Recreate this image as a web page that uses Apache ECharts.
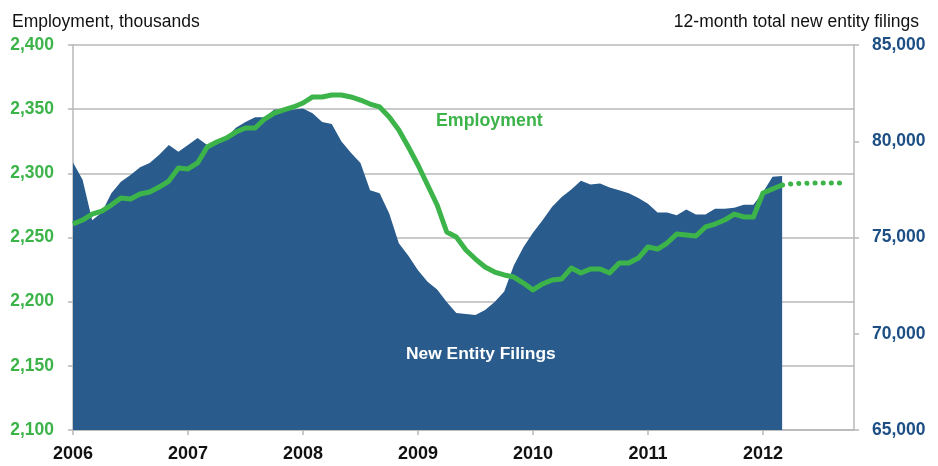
<!DOCTYPE html>
<html>
<head>
<meta charset="utf-8">
<script src="https://cdn.jsdelivr.net/npm/echarts@6/dist/echarts.min.js"></script>
<style>
  html, body { margin: 0; padding: 0; background: #fff; }
  #main { width: 938px; height: 466px; }
</style>
</head>
<body>
<div id="main"></div>
<script>
// monthly, starting Jan 2006
var years = ['2006', '2007', '2008', '2009', '2010', '2011', '2012']
var filings = [
  78900, 78000, 75900, 76300, 77300, 77900, 78250, 78650, 78870, 79300, 79800, 79450,
  79800, 80170, 79800, 80000, 80200, 80700, 81000, 81250, 81250, 81650, 81650, 81650,
  81700, 81450, 81000, 80900, 80000, 79400, 78870, 77450, 77300, 76250, 74700, 74050,
  73300, 72700, 72300, 71650, 71080, 71030, 70970, 71230, 71650, 72200, 73550, 74500,
  75250, 75900, 76600, 77100, 77500, 77950, 77750, 77800, 77600, 77450, 77300, 77050,
  76750, 76300, 76300, 76150, 76450, 76200, 76200, 76500, 76500, 76550, 76700, 76700,
  77350, 78150, 78200
]
var employment = [
  2260.5, 2263.6, 2268.3, 2270.6, 2275.3, 2280.8, 2280, 2283.9, 2285.5, 2289.3, 2294, 2304.2,
  2303.4, 2308.1, 2320.5, 2324.4, 2327.5, 2332.2, 2335.3, 2335.3, 2342.3, 2347, 2349.4, 2351.7,
  2354.8, 2359.5, 2359.5, 2361, 2361, 2359.5, 2357.1, 2354, 2351.7, 2343.9, 2333.8, 2320.5,
  2306.5, 2290.9, 2275.3, 2254.3, 2250.4, 2240.3, 2233.2, 2227, 2223.1, 2220.8, 2219.2, 2214.5,
  2209.1, 2213.8, 2216.9, 2217.7, 2226.2, 2222.3, 2225.5, 2225.5, 2222.3, 2230.1, 2230.1, 2234,
  2242.6, 2241, 2245.7, 2252.7, 2252, 2251.2, 2258.2, 2260.5, 2263.6, 2268.3, 2266, 2266,
  2284.7, 2287.8, 2290.9
]
// projection continues from the last actual month
var projection = [2290.9, 2291.8, 2292.2, 2292.4, 2292.4, 2292.4, 2292.4]

var GREEN = '#3cb44a'
var BLUE = '#295b8d'
var NAVY = '#1d4f85'
var GRID = '#b8b8b8'
var FONT = "'Liberation Sans', Arial, sans-serif"

function toPoints (arr, start) {
  return arr.map(function (v, i) { return [start + i, v] })
}
function comma (v) {
  return String(v).replace(/\B(?=(\d{3})+(?!\d))/g, ',')
}

var option = {
  backgroundColor: '#ffffff',
  animation: false,
  grid: { left: 73, right: 84, top: 45, bottom: 36 },
  xAxis: {
    type: 'value',
    min: 0,
    max: 81.5,
    interval: 12,
    axisLine: { show: true, lineStyle: { color: GRID, width: 1.5 } },
    axisTick: { show: true, length: 5, lineStyle: { color: GRID, width: 1.5 } },
    splitLine: { show: false },
    axisLabel: {
      showMaxLabel: false,
      margin: 15,
      color: '#111',
      fontFamily: FONT,
      fontWeight: 'bold',
      fontSize: 18,
      formatter: function (v) {
        return v % 12 === 0 ? years[v / 12] : ''
      }
    }
  },
  yAxis: [
    {
      type: 'value',
      min: 2100,
      max: 2400,
      interval: 50,
      position: 'left',
      axisLine: { show: true, lineStyle: { color: GRID, width: 1.5 } },
      axisTick: { show: true, length: 5, lineStyle: { color: GRID, width: 1.5 } },
      splitLine: { show: true, lineStyle: { color: GRID, width: 1.5 } },
      axisLabel: {
        margin: 19,
        color: GREEN,
        fontFamily: FONT,
        fontWeight: 'bold',
        fontSize: 17.5,
        formatter: comma
      }
    },
    {
      type: 'value',
      min: 65000,
      max: 85000,
      interval: 5000,
      position: 'right',
      axisLine: { show: true, lineStyle: { color: GRID, width: 1.5 } },
      axisTick: { show: true, length: 5, lineStyle: { color: GRID, width: 1.5 } },
      splitLine: { show: false },
      axisLabel: {
        margin: 18,
        color: NAVY,
        fontFamily: FONT,
        fontWeight: 'bold',
        fontSize: 17.5,
        formatter: comma
      }
    }
  ],
  graphic: [
    {
      type: 'text', left: 12, top: 13,
      style: { text: 'Employment, thousands', fill: '#111', font: '17.5px ' + FONT }
    },
    {
      type: 'text', right: 19, top: 13,
      style: { text: '12-month total new entity filings', fill: '#111', font: '17.5px ' + FONT }
    },
    {
      type: 'text', left: 436, top: 112, z: 10,
      style: { text: 'Employment', fill: GREEN, font: 'bold 17.8px ' + FONT }
    },
    {
      type: 'text', left: 406, top: 346, z: 10,
      style: { text: 'New Entity Filings', fill: '#ffffff', font: 'bold 17.4px ' + FONT }
    }
  ],
  series: [
    {
      name: 'New Entity Filings',
      type: 'line',
      yAxisIndex: 1,
      data: toPoints(filings, 0),
      symbol: 'none',
      lineStyle: { width: 0 },
      areaStyle: { color: BLUE, opacity: 1, origin: 'start' },
      z: 1
    },
    {
      name: 'Employment',
      type: 'line',
      yAxisIndex: 0,
      data: toPoints(employment, 0),
      symbol: 'none',
      lineStyle: { color: GREEN, width: 5, join: 'round' },
      z: 3
    },
    {
      name: 'Projection',
      type: 'line',
      yAxisIndex: 0,
      data: toPoints(projection, employment.length - 1),
      symbol: 'none',
      lineStyle: { color: GREEN, width: 5, type: [0.1, 8.05], cap: 'round', dashOffset: 7.8 },
      z: 3
    }
  ]
}

var myChart = echarts.init(document.getElementById('main'))
myChart.setOption(option)
</script>
</body>
</html>
